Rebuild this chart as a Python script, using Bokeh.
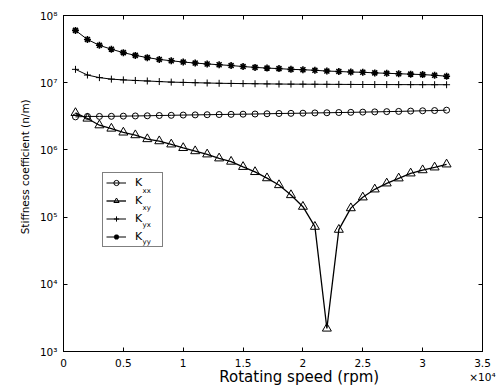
import numpy as np
from bokeh.plotting import figure
from bokeh.models import (ColumnDataSource, LogAxis, LinearAxis, FixedTicker,
                          Legend, LegendItem, Range1d)
from bokeh.core.properties import value
from bokeh.embed import file_html
from bokeh.resources import INLINE

# Rotating speed in units of 10^4 rpm
speed = [0.1, 0.2, 0.3, 0.4, 0.5, 0.6, 0.7, 0.8, 0.9, 1.0,
         1.1, 1.2, 1.3, 1.4, 1.5, 1.6, 1.7, 1.8, 1.9, 2.0,
         2.1, 2.2, 2.3, 2.4, 2.5, 2.6, 2.7, 2.8, 2.9, 3.0,
         3.1, 3.2]

k_xx = [3.10e6, 3.15e6, 3.15e6, 3.16e6, 3.18e6, 3.20e6, 3.22e6, 3.25e6, 3.27e6, 3.30e6,
        3.32e6, 3.34e6, 3.36e6, 3.38e6, 3.40e6, 3.42e6, 3.45e6, 3.48e6, 3.50e6, 3.52e6,
        3.55e6, 3.57e6, 3.60e6, 3.62e6, 3.65e6, 3.68e6, 3.71e6, 3.74e6, 3.78e6, 3.82e6,
        3.85e6, 3.90e6]

k_xy = [3.55e6, 2.93e6, 2.33e6, 2.08e6, 1.82e6, 1.66e6, 1.45e6, 1.35e6, 1.21e6, 1.07e6,
        9.6e5, 8.6e5, 7.5e5, 6.7e5, 5.6e5, 4.7e5, 3.8e5, 3.0e5, 2.13e5, 1.43e5,
        7.2e4, 2.2e3, 6.5e4, 1.36e5, 1.97e5, 2.59e5, 3.18e5, 3.78e5, 4.48e5, 5.0e5,
        5.5e5, 6.1e5]

k_yx = [1.58e7, 1.30e7, 1.19e7, 1.13e7, 1.10e7, 1.08e7, 1.06e7, 1.04e7, 1.02e7, 1.01e7,
        1.00e7, 9.9e6, 9.8e6, 9.75e6, 9.7e6, 9.65e6, 9.6e6, 9.55e6, 9.52e6, 9.5e6,
        9.48e6, 9.46e6, 9.44e6, 9.42e6, 9.4e6, 9.39e6, 9.38e6, 9.37e6, 9.36e6, 9.35e6,
        9.34e6, 9.33e6]

k_yy = [6.0e7, 4.4e7, 3.6e7, 3.15e7, 2.8e7, 2.55e7, 2.36e7, 2.22e7, 2.12e7, 2.03e7,
        1.96e7, 1.90e7, 1.85e7, 1.80e7, 1.74e7, 1.69e7, 1.65e7, 1.62e7, 1.58e7, 1.56e7,
        1.53e7, 1.49e7, 1.47e7, 1.44e7, 1.43e7, 1.40e7, 1.38e7, 1.36e7, 1.34e7, 1.32e7,
        1.29e7, 1.25e7]

x_ticks = [0, 0.5, 1, 1.5, 2, 2.5, 3, 3.5]
x_tick_labels = ["0", "0.5", "1", "1.5", "2", "2.5", "3", "3.5\n×10⁴"]
y_ticks = [1e3, 1e4, 1e5, 1e6, 1e7, 1e8]
y_tick_labels = ["10³", "10⁴", "10⁵", "10⁶", "10⁷", "10⁸"]

x_title = "Rotating speed (rpm)"
y_title = "Stiffness coefficient (n/m)"
series_subscripts = ["xx", "xy", "yx", "yy"]

FONT = "DejaVu Sans"
NBSP = "\u00a0"
W, H = 500, 388
BL, BR, BT, BB = 63, 18, 15, 36
FW, FH = W - BL - BR, H - BT - BB

src = ColumnDataSource(dict(speed=speed, k_xx=k_xx, k_xy=k_xy, k_yx=k_yx, k_yy=k_yy))

p = figure(width=W, height=H, x_range=Range1d(0, 3.5), y_range=Range1d(1e3, 1e8),
           y_axis_type="log", output_backend="svg", toolbar_location=None,
           min_border_left=BL, min_border_right=BR, min_border_top=BT, min_border_bottom=BB,
           background_fill_color="white", border_fill_color="white")
p.grid.visible = False
p.outline_line_color = "black"
p.outline_line_width = 1

# bottom axis
xa = p.xaxis[0]
xa.ticker = FixedTicker(ticks=x_ticks, minor_ticks=[])
xa.major_label_overrides = {t: l for t, l in zip(x_ticks, x_tick_labels)}
xa.major_tick_in = 4
xa.major_tick_out = 0
xa.minor_tick_line_color = None
xa.major_label_standoff = 5
xa.major_label_text_font = FONT
xa.major_label_text_font_size = "10.5px"
xa.major_label_text_color = "black"
xa.axis_line_color = "black"
xa.axis_label = NBSP * 11 + x_title
xa.axis_label_standoff = -18
xa.axis_label_text_font = FONT
xa.axis_label_text_font_size = "15px"
xa.axis_label_text_font_style = "normal"
xa.axis_label_text_color = "black"

# left axis
ya = p.yaxis[0]
ya.ticker = FixedTicker(ticks=y_ticks, minor_ticks=[])
ya.major_label_overrides = {t: l for t, l in zip(y_ticks, y_tick_labels)}
ya.major_tick_in = 4
ya.major_tick_out = 0
ya.minor_tick_line_color = None
ya.major_label_standoff = 6
ya.major_label_text_font = FONT
ya.major_label_text_font_size = "10.5px"
ya.major_label_text_color = "black"
ya.axis_line_color = "black"
ya.axis_label = NBSP * 10 + y_title
ya.axis_label_standoff = 6
ya.axis_label_text_font = FONT
ya.axis_label_text_font_size = "10.5px"
ya.axis_label_text_font_style = "normal"
ya.axis_label_text_color = "black"

# mirrored tick axes (top / right), labels not drawn
top = LinearAxis(ticker=FixedTicker(ticks=x_ticks, minor_ticks=[]), major_tick_in=4, major_tick_out=0,
                 minor_tick_line_color=None, major_label_text_font_size="5px",
                 major_label_text_color=None, major_label_standoff=0, axis_line_color="black")
p.add_layout(top, "above")
right = LogAxis(ticker=FixedTicker(ticks=y_ticks, minor_ticks=[]), major_tick_in=4, major_tick_out=0,
                minor_tick_line_color=None, major_label_text_font_size="5px",
                major_label_text_color=None, major_label_standoff=0, axis_line_color="black")
p.add_layout(right, "right")

# series
l_xx = p.line("speed", "k_xx", source=src, line_color="black", line_width=1)
m_xx = p.scatter("speed", "k_xx", source=src, marker="circle", size=6, fill_color=None,
                 line_color="black", line_width=1)
l_xy = p.line("speed", "k_xy", source=src, line_color="black", line_width=1.3)
m_xy = p.scatter("speed", "k_xy", source=src, marker="triangle", size=9, fill_color=None,
                 line_color="black", line_width=1)
l_yx = p.line("speed", "k_yx", source=src, line_color="black", line_width=1)
m_yx = p.scatter("speed", "k_yx", source=src, marker="cross", size=7, fill_color=None,
                 line_color="black", line_width=1)
l_yy = p.line("speed", "k_yy", source=src, line_color="black", line_width=1)
m_yy = p.scatter("speed", "k_yy", source=src, marker="asterisk", size=7, fill_color="black",
                 line_color="black", line_width=1.6)

# legend geometry (screen px, relative to the frame's bottom-left corner)
LG_LEFT, LG_BOTTOM = 39, 104
PAD, ROW, SPACE, GW, STAND, LW = 3, 13, 5, 20, 9, 24
legend = Legend(items=[LegendItem(label="K", renderers=[l_xx, m_xx]),
                       LegendItem(label="K", renderers=[l_xy, m_xy]),
                       LegendItem(label="K", renderers=[l_yx, m_yx]),
                       LegendItem(label="K", renderers=[l_yy, m_yy])],
                location=(LG_LEFT, LG_BOTTOM), padding=PAD, spacing=SPACE, margin=0,
                glyph_width=GW, glyph_height=ROW, label_height=ROW, label_width=LW,
                label_standoff=STAND, label_text_font=FONT, label_text_font_size="11px",
                label_text_color="black",
                border_line_color="black", border_line_width=1, background_fill_alpha=0)
p.add_layout(legend)

# subscripts of the legend labels, placed just after each "K"
ROW_PITCH = 17     # rendered row pitch of the legend
sub_px_x = LG_LEFT + PAD + GW + STAND + 8
first_base_px = LG_BOTTOM + PAD + ROW / 2 + 3 * (ROW + SPACE) - 6.5
sub_x, sub_y = [], []
for i in range(4):
    base_px = first_base_px - i * ROW_PITCH
    sub_x.append(sub_px_x / FW * 3.5)
    sub_y.append(10 ** (3 + 5 * base_px / FH))
p.text(x=sub_x, y=sub_y, text=series_subscripts, text_font=value(FONT), text_font_size="7px",
       text_baseline="alphabetic", text_align="left", text_color="black")

open("out.html", "w").write(file_html(p, INLINE))
